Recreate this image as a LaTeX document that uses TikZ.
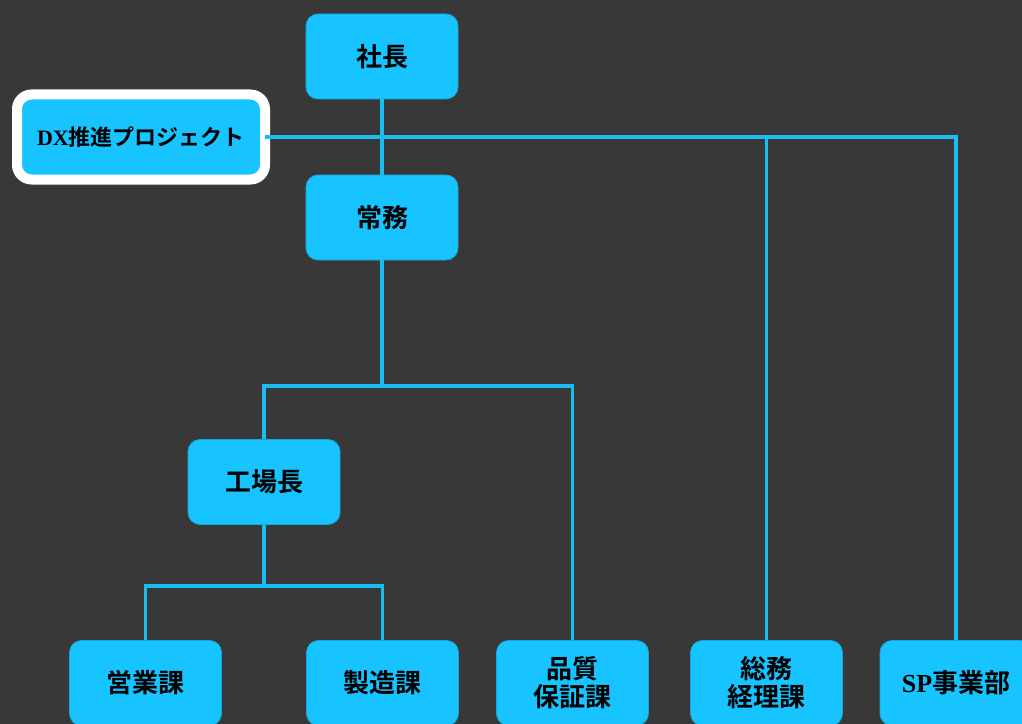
\documentclass[tikz,border=0pt]{standalone}
\usepackage{fontspec}
\usepackage{tikz}
\newfontfamily\jpfont{Noto Sans CJK JP}[BoldFont={Noto Sans CJK JP Bold}]
\newfontfamily\latfont{Liberation Serif}
\newcommand*\lat[1]{{\latfont\bfseries #1}}
\newcommand*\boxw{114pt}
\newcommand*\boxh{63.75pt}
\definecolor{bgdark}{HTML}{383838}
\definecolor{orgcyan}{HTML}{17C4FF}
\definecolor{linecyan}{HTML}{1ABDF2}
\tikzset{
    unit/.style   = {draw=orgcyan!85!black, line width=0.6pt, fill=orgcyan,
                    rounded corners=9pt, minimum width=\boxw, minimum height=\boxh,
                    inner sep=0pt, align=center, text=black,
                    font=\jpfont\bfseries\fontsize{19.5}{21}\selectfont},
    dxunit/.style = {unit, draw=white, line width=7.5pt, outer sep=0pt,
                    minimum width=186pt, rounded corners=11pt,
                    font=\jpfont\bfseries\fontsize{16.5}{20}\selectfont},
    link/.style   = {draw=linecyan, line width=2.4pt},
  }
\begin{document}
\begin{tikzpicture}[x=0.75pt,y=-0.75pt]
      % background and page size
      \fill[bgdark] (0,0) rectangle (1022,724);
      \clip (0,0) rectangle (1022,724);

      % top of the chart
      \node[unit]   (shacho) at (382,56.5)  {社長};
      \node[unit]   (jomu)   at (382,217.5) {常務};
      \node[dxunit] (dx)     at (141,137)   {\lat{DX}推進プロジェクト};

      % middle
      \node[unit] (kojo) at (264,482) {工場長};

      % bottom row
      \node[unit] (eigyo)     at (145.5,683) {営業課};
      \node[unit] (seizo)     at (382.5,683) {製造課};
      \node[unit] (hinshitsu) at (572.5,683) {品質\\保証課};
      \node[unit] (somu)      at (766.5,683) {総務\\経理課};
      \node[unit] (sp)        at (956,683)   {\lat{SP}事業部};

      % branch points
      \coordinate (b1) at (382,386);
      \coordinate (b2) at (264,586);

      % connectors
      \draw[link] (shacho) -- (jomu);
      \draw[link] (dx.east) -| (sp.north);
      \draw[link] (somu.north) -- (somu.north |- dx.east);
      \draw[link] (jomu) -- (b1);
      \draw[link] (kojo.north) |- (b1) -| (hinshitsu.north);
      \draw[link] (kojo) -- (b2);
      \draw[link] (eigyo.north) |- (b2) -| (seizo.north);
    \end{tikzpicture}
\end{document}
